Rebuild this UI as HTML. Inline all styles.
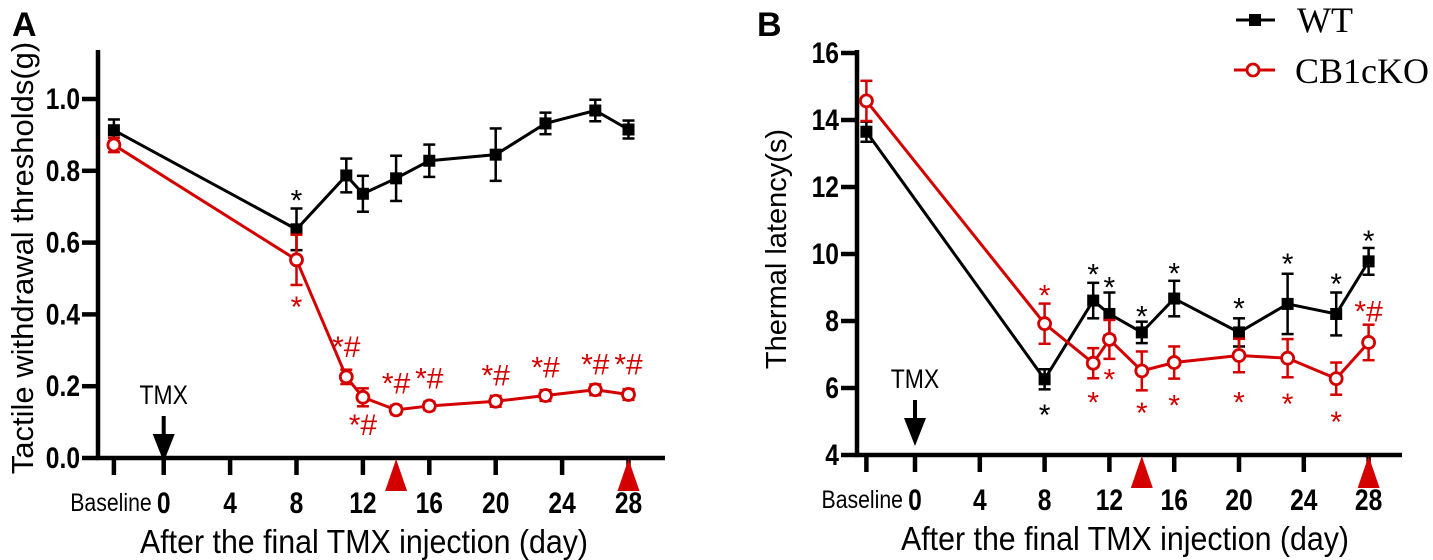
<!DOCTYPE html>
<html><head><meta charset="utf-8"><style>
html,body{margin:0;padding:0;background:#fff;}
svg{display:block;}
</style></head><body>
<svg id="fig" width="1433" height="560" viewBox="0 0 1433 560" xmlns="http://www.w3.org/2000/svg" style="font-family:'Liberation Sans',Arial,sans-serif"></svg>
<script>
const NS="http://www.w3.org/2000/svg";
const RED="#d40000";
// Panel A data
const daysA=[-3,8,11,12,14,16,20,23,26,28];
const wtA=[0.913,0.637,0.787,0.736,0.779,0.828,0.845,0.932,0.968,0.915];
const wtErrA=[0.03,0.058,0.047,0.05,0.063,0.045,0.073,0.03,0.03,0.025];
const koA=[0.872,0.552,0.226,0.169,0.134,0.145,0.158,0.174,0.19,0.177];
const koErrA=[0.02,0.07,0.02,0.025,0.012,0.012,0.015,0.015,0.015,0.015];
const yTicksA=[0,0.2,0.4,0.6,0.8,1.0];
const yTickLabelsA=["0.0","0.2","0.4","0.6","0.8","1.0"];
const wtMarksA=[{d:8,v:0.739,t:"*"}];
const koMarksA=[{d:8,v:0.443,t:"*"},{d:11,v:0.318,t:"*#"},{d:12,v:0.1,t:"*#"},{d:14,v:0.216,t:"*#"},{d:16,v:0.23,t:"*#"},{d:20,v:0.238,t:"*#"},{d:23,v:0.26,t:"*#"},{d:26,v:0.269,t:"*#"},{d:28,v:0.269,t:"*#"}];
// Panel B data
const daysB=[-3,8,11,12,14,16,20,23,26,28];
const wtB=[13.65,6.26,8.61,8.21,7.66,8.67,7.66,8.51,8.21,9.78];
const wtErrB=[0.3,0.3,0.53,0.64,0.32,0.53,0.42,0.9,0.64,0.4];
const koB=[14.57,7.92,6.74,7.45,6.51,6.76,6.97,6.89,6.28,7.36];
const koErrB=[0.6,0.6,0.45,0.58,0.58,0.48,0.5,0.57,0.48,0.53];
const yTicksB=[4,6,8,10,12,14,16];
const yTickLabelsB=["4","6","8","10","12","14","16"];
const wtMarksB=[{d:8,v:5.43,t:"*"},{d:11,v:9.62,t:"*"},{d:12,v:9.24,t:"*"},{d:14,v:8.38,t:"*"},{d:16,v:9.65,t:"*"},{d:20,v:8.61,t:"*"},{d:23,v:9.94,t:"*"},{d:26,v:9.35,t:"*"},{d:28,v:10.62,t:"*"}];
const koMarksB=[{d:8,v:9.0,t:"*"},{d:11,v:5.81,t:"*"},{d:12,v:6.5,t:"*"},{d:14,v:5.5,t:"*"},{d:16,v:5.71,t:"*"},{d:20,v:5.81,t:"*"},{d:23,v:5.76,t:"*"},{d:26,v:5.23,t:"*"},{d:28,v:8.37,t:"*#"}];
const xTickDays=[0,4,8,12,16,20,24,28];
const xTickLabels=["0","4","8","12","16","20","24","28"];

const svg=document.getElementById("fig");
function el(tag,attrs,parent,text){const e=document.createElementNS(NS,tag);for(const k in attrs)e.setAttribute(k,attrs[k]);if(text!==undefined)e.textContent=text;(parent||svg).appendChild(e);return e;}
function ctext(x,y,str,attrs,sx,parent){
  const a=Object.assign({x:0,y:0,transform:`translate(${x},${y}) scale(${sx},1)`},attrs);
  return el("text",a,parent,str);
}

function panel(cfg){
  const g=el("g",{},svg);
  
  
  const X=d=>cfg.x0+d*cfg.dx;
  const Y=v=>cfg.yb-(v-cfg.vmin)*cfg.dy;
  const ya=el("line",{x1:cfg.ax,y1:cfg.ytop,x2:cfg.ax,y2:cfg.yb+2,stroke:"#000","stroke-width":4.5},g);
  
  
  const xa=el("line",{x1:cfg.ax-2,y1:cfg.yb,x2:cfg.xend,y2:cfg.yb,stroke:"#000","stroke-width":4.5},g);
  
  
  cfg.yTicks.forEach((v,i)=>{
    el("line",{x1:cfg.ax-16,y1:Y(v),x2:cfg.ax,y2:Y(v),stroke:"#000","stroke-width":4.5},g);
    const t=ctext(cfg.ax-18,Y(v)+10,cfg.yLabels[i],{"text-anchor":"end","font-size":30,"font-weight":"bold"},0.82,g);
    
    
  });
  const tickDays=[-3].concat(xTickDays);
  tickDays.forEach(d=>el("line",{x1:X(d),y1:cfg.yb,x2:X(d),y2:cfg.yb+17,stroke:"#000","stroke-width":4.5},g));
  xTickDays.forEach((d,i)=>{
    const t=ctext(X(d),cfg.yb+55,xTickLabels[i],{"text-anchor":"middle","font-size":30,"font-weight":"bold"},0.82,g);
    
    
  });
  const bl=ctext(X(0)-12,cfg.yb+53,"Baseline",{"text-anchor":"end","font-size":25},0.85,g);
  
  
  const xt=ctext(cfg.xtx,cfg.yb+95,"After the final TMX injection (day)",{"text-anchor":"middle","font-size":33},0.92,g);
  
  
  const yt=el("text",{x:0,y:0,"text-anchor":"middle","font-size":cfg.ytfs,transform:`translate(${cfg.ytx},${cfg.yty}) rotate(-90)`},g,cfg.ytitle);
  
  
  const pl=el("text",{x:cfg.plx,y:36,"font-size":34,"font-weight":"bold"},g,cfg.letter);
  
  
  [14,28].forEach(d=>{
    const p=el("polygon",{points:`${X(d)-11},${cfg.yb+33} ${X(d)+11},${cfg.yb+33} ${X(d)},${cfg.yb+1}`,fill:RED},g);
    
    
  });
  const tx=ctext(X(0),cfg.tmxY,"TMX",{"text-anchor":"middle","font-size":27},0.85,g);
  
  
  el("line",{x1:X(0),y1:cfg.tmxY+12,x2:X(0),y2:cfg.tmxY+34,stroke:"#000","stroke-width":4},g);
  const ar=el("polygon",{points:`${X(0)-11},${cfg.tmxY+30} ${X(0)+11},${cfg.tmxY+30} ${X(0)},${cfg.tmxY+58}`,fill:"#000"},g);
  
  
  function series(days,vals,errs,color,kind,name){
    const sg=el("g",{},g);
    
    
    days.forEach((d,i)=>{
      const x=X(d);
      const ye=Y(vals[i]+errs[i]),yl=Y(vals[i]-errs[i]);
      el("line",{x1:x,y1:ye,x2:x,y2:yl,stroke:color,"stroke-width":2.5},sg);
      el("line",{x1:x-6,y1:ye,x2:x+6,y2:ye,stroke:color,"stroke-width":2.5},sg);
      el("line",{x1:x-6,y1:yl,x2:x+6,y2:yl,stroke:color,"stroke-width":2.5},sg);
    });
    el("polyline",{points:days.map((d,i)=>X(d)+","+Y(vals[i])).join(" "),fill:"none",stroke:color,"stroke-width":3},sg);
    days.forEach((d,i)=>{
      const x=X(d),y=Y(vals[i]);
      let m;
      if(kind==="sq") m=el("rect",{x:x-6,y:y-6,width:12,height:12,fill:color},sg);
      else m=el("circle",{cx:x,cy:y,r:6,fill:"#fff",stroke:color,"stroke-width":2.8},sg);
      
      
    });
  }
  series(cfg.days,cfg.wt,cfg.wtErr,"#000","sq","wt-series");
  series(cfg.days,cfg.ko,cfg.koErr,RED,"circ","cb1cko-series");
  function marks(arr,color){
    arr.forEach(m=>{
      const off=m.t==="*"?18:13;
      const t=el("text",{x:X(m.d),y:Y(m.v)+off,"text-anchor":"middle","font-size":30,fill:color},g,m.t);
      
      
    });
  }
  marks(cfg.wtMarks,"#000");
  marks(cfg.koMarks,RED);
}
panel({name:"panel-a",letter:"A",plx:12,x0:163.7,dx:16.6,ax:98,yb:458,ytop:50,xend:665,vmin:0,dy:359,
  yTicks:yTicksA,yLabels:yTickLabelsA,ytitle:"Tactile withdrawal thresholds(g)",ytfs:31,ytx:33,yty:258,xtx:364,tmxY:404,
  days:daysA,wt:wtA,wtErr:wtErrA,ko:koA,koErr:koErrA,wtMarks:wtMarksA,koMarks:koMarksA});
panel({name:"panel-b",letter:"B",plx:757,x0:915,dx:16.2,ax:857,yb:455,ytop:50,xend:1402,vmin:4,dy:33.5,
  yTicks:yTicksB,yLabels:yTickLabelsB,ytitle:"Thermal latency(s)",ytfs:29,ytx:786,yty:249,xtx:1125,tmxY:388,
  days:daysB,wt:wtB,wtErr:wtErrB,ko:koB,koErr:koErrB,wtMarks:wtMarksB,koMarks:koMarksB});
const lg=el("g",{},svg);


el("line",{x1:1236,y1:20,x2:1275,y2:20,stroke:"#000","stroke-width":3},lg);
el("rect",{x:1249,y:14,width:12,height:12,fill:"#000"},lg);
const l1=el("text",{x:1297,y:32,"font-size":36,style:"font-family:'Liberation Serif',serif"},lg,"WT");


el("line",{x1:1234,y1:70,x2:1275,y2:70,stroke:RED,"stroke-width":3},lg);
el("circle",{cx:1253,cy:70,r:6,fill:"#fff",stroke:RED,"stroke-width":2.8},lg);
const l2=el("text",{x:1295,y:83,"font-size":36,style:"font-family:'Liberation Serif',serif"},lg,"CB1cKO");


</script>
</body></html>
